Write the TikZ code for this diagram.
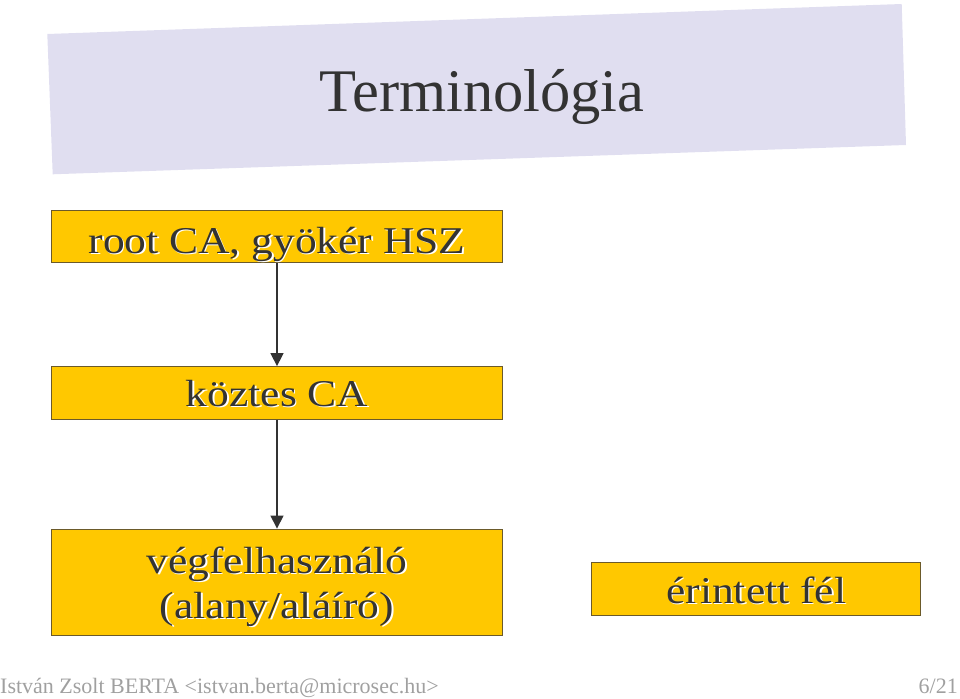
\documentclass[tikz,border=0pt]{standalone}
\usepackage{fontspec}
\setmainfont{Liberation Serif}
\usetikzlibrary{arrows.meta}
\definecolor{banner}{HTML}{E0DEF0}
\definecolor{gold}{HTML}{FFC800}
\definecolor{goldborder}{HTML}{6B5A2A}
\definecolor{ink}{HTML}{333333}
\definecolor{footgray}{HTML}{A0A0A0}
\newcommand\shtxt[1]{\leavevmode\rlap{\kern1.5pt\raisebox{-1.5pt}{\textcolor{white}{#1}}}#1}
\newcommand\boxtxt[1]{\scalebox{1}[0.87]{\shtxt{#1}}}
\tikzset{
  termbox/.style={draw=goldborder, line width=0.9pt, fill=gold, inner sep=0pt,
    text=ink, font=\fontsize{43.5}{46}\selectfont, text depth=0pt},
  connector/.style={draw=ink, line width=1.5pt, -{Triangle[width=13pt,length=13pt]}},
  footer/.style={text=footgray, font=\fontsize{22}{24}\selectfont, inner sep=0pt}
}
\begin{document}
\begin{tikzpicture}[x=1pt,y=-1pt]
\useasboundingbox (0,0) rectangle (960,698);
% banner
\fill[banner] (47.3,34) -- (901.7,4) -- (906,145) -- (52.7,174.3) -- cycle;
\node[anchor=base, inner sep=0pt, text=ink, font=\fontsize{60.5}{66}\selectfont] (title) at (482,111.7) {Terminológia};
% boxes
\node[termbox, minimum width=451pt, minimum height=52.5pt, text height=34pt] (root) at (277,236.3) {\boxtxt{root CA, gyökér HSZ}};
\node[termbox, minimum width=451pt, minimum height=52.5pt, text height=27pt] (inter) at (277,392.8) {\boxtxt{köztes CA}};
\node[termbox, minimum width=451pt, minimum height=106pt, text depth=, text height=] (end) at (277,582) {\raisebox{-4.5pt}[\height][\depth]{\begin{tabular}{@{}c@{}}\boxtxt{végfelhasználó}\\[-1pt]\boxtxt{(alany/aláíró)}\end{tabular}}};
\node[termbox, minimum width=329pt, minimum height=53.5pt, text height=28.6pt] (party) at (756.3,589) {\boxtxt{érintett fél}};
% connectors
\draw[connector] (root) -- (inter);
\draw[connector] (inter) -- (end);
% footer
\node[footer, anchor=base west] (author) at (0,693.5) {István Zsolt BERTA <istvan.berta@microsec.hu>};
\node[footer, anchor=base east] (page) at (958,693.5) {6/21};
\end{tikzpicture}
\end{document}
